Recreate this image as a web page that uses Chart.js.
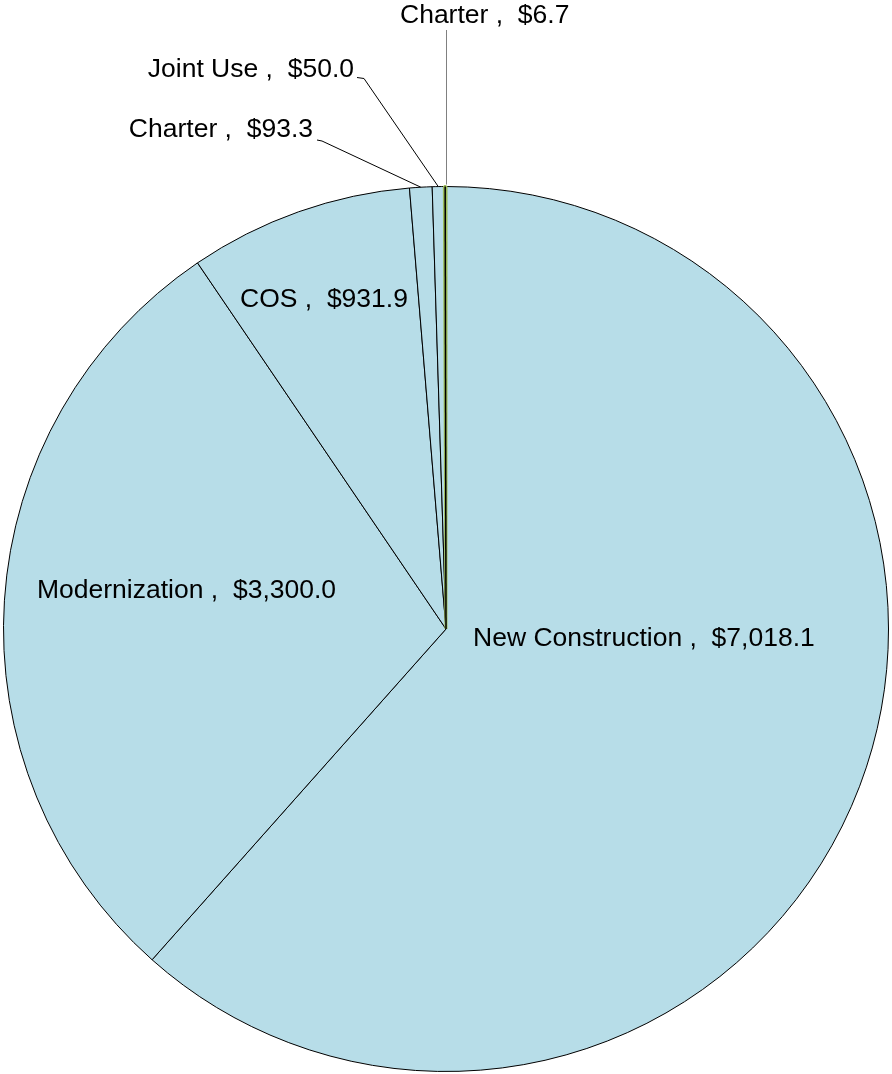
<!DOCTYPE html>
<html>
<head>
<meta charset="utf-8">
<script src="https://cdn.jsdelivr.net/npm/chart.js@4/dist/chart.umd.min.js"></script>
<style>
  html, body { margin:0; padding:0; background:#fff; }
  #wrap { width:892px; height:1074px; position:relative; }
</style>
</head>
<body>
<div id="wrap"><canvas id="pie"></canvas></div>
<script>
// categorias e valores (em milhões) - ordem horária a partir do topo
const categories = ['New Construction', 'Modernization', 'COS', 'Charter', 'Joint Use', 'Charter'];
const values = [7018.1, 3300.0, 931.9, 93.3, 50.0, 6.7];
const sliceColors = ['#b7dde8', '#b7dde8', '#b7dde8', '#b7dde8', '#b7dde8', '#9bbb59'];
const sliceBorders = ['#000', '#000', '#000', '#000', '#000', '#9bbb59'];
const sliceBorderWidths = [1, 1, 1, 1, 1, 3];

// posição dos rótulos relativa ao centro da pizza (px), alinhamento e linha guia
const labelLayout = [
  { dx: 27,   dy: 17,   align: 'left' },
  { dx: -409, dy: -31,  align: 'left' },
  { dx: -206, dy: -322, align: 'left' },
  { dx: -133, dy: -492, align: 'right', leader: [[-129, -489], [-124, -488]], leaderColor: '#000' },
  { dx: -92,  dy: -552, align: 'right', leader: [[-89, -551.5], [-82, -550.5]], leaderColor: '#000' },
  { dx: -46,  dy: -606, align: 'left',  leader: [[0.5, -599]], leaderColor: '#808080', vertical: true }
];

function fmtMoney(v){
  return '$' + v.toLocaleString('en-US', { minimumFractionDigits: 1, maximumFractionDigits: 1 });
}

const pieLabels = {
  id: 'pieLabels',
  afterDatasetsDraw(chart){
    const ctx = chart.ctx;
    const arcs = chart.getDatasetMeta(0).data;
    ctx.save();
    // contorno escuro dentro da fatia mínima (verde)
    const last = arcs[arcs.length - 1].getProps(['x','y','startAngle','endAngle','outerRadius'], true);
    const m = (last.startAngle + last.endAngle) / 2;
    ctx.beginPath();
    ctx.strokeStyle = '#000';
    ctx.lineWidth = 1.5;
    ctx.moveTo(last.x, last.y);
    ctx.lineTo(last.x + Math.cos(m) * last.outerRadius, last.y + Math.sin(m) * last.outerRadius);
    ctx.stroke();

    ctx.font = '26.5px "Liberation Sans", Arial, sans-serif';
    ctx.fillStyle = '#000';
    ctx.textBaseline = 'alphabetic';
    arcs.forEach((arc, i) => {
      const cfg = labelLayout[i];
      const { x, y, startAngle, endAngle, outerRadius } = arc.getProps(['x','y','startAngle','endAngle','outerRadius'], true);
      if (cfg.leader) {
        const mid = (startAngle + endAngle) / 2;
        let ex = x + Math.cos(mid) * outerRadius;
        const ey = y + Math.sin(mid) * outerRadius - (cfg.vertical ? 2 : 0);
        ctx.beginPath();
        ctx.strokeStyle = cfg.leaderColor;
        ctx.lineWidth = 1;
        const pts = cfg.leader.map(p => [x + p[0], y + p[1]]);
        if (cfg.vertical) ex = pts[0][0];
        ctx.moveTo(pts[0][0], pts[0][1]);
        for (let k = 1; k < pts.length; k++) ctx.lineTo(pts[k][0], pts[k][1]);
        ctx.lineTo(ex, ey);
        ctx.stroke();
      }
      ctx.textAlign = cfg.align;
      ctx.fillText(categories[i] + ' ,  ' + fmtMoney(values[i]), x + cfg.dx, y + cfg.dy);
    });
    ctx.restore();
  }
};

new Chart(document.getElementById('pie'), {
  type: 'pie',
  data: {
    labels: categories,
    datasets: [{
      data: values,
      backgroundColor: sliceColors,
      borderColor: sliceBorders,
      borderWidth: sliceBorderWidths
    }]
  },
  options: {
    responsive: true,
    maintainAspectRatio: false,
    animation: false,
    layout: { padding: { top: 185, bottom: 1, left: 2, right: 2 } },
    plugins: { legend: { display: false }, tooltip: { enabled: false } }
  },
  plugins: [pieLabels]
});
</script>
</body>
</html>
